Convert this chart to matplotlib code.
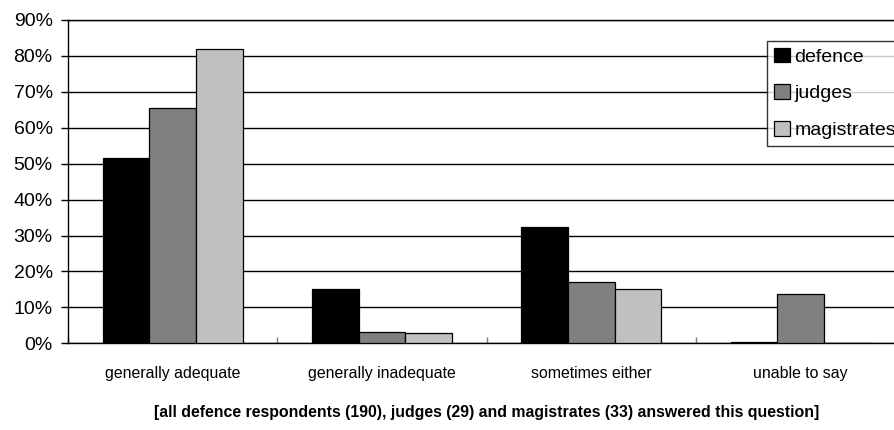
import matplotlib
matplotlib.use("Agg")
import matplotlib.pyplot as plt
import numpy as np
from matplotlib.ticker import FuncFormatter, FixedLocator

categories = ["generally adequate", "generally inadequate", "sometimes either", "unable to say"]
series_names = ["defence", "judges", "magistrates"]
defence = [51.5, 15.1, 32.4, 0.5]
judges = [65.4, 3.2, 17.0, 13.6]
magistrates = [81.8, 2.8, 15.0, 0.0]
y_ticks = [0, 10, 20, 30, 40, 50, 60, 70, 80, 90]
note = "[all defence respondents (190), judges (29) and magistrates (33) answered this question]"

colors = ["#000000", "#808080", "#C0C0C0"]

plt.rcParams['font.family'] = ['Liberation Sans', 'DejaVu Sans']

W, H = 895, 430
fig = plt.figure(figsize=(W / 100, H / 100), dpi=100)
left, right = 68, 905.3
top, bottom = 20, 343.3
ax = fig.add_axes([left / W, (H - bottom) / H, (right - left) / W, (bottom - top) / H])

x = np.arange(len(categories))
bw = 0.2227
for i, (vals, name) in enumerate(zip([defence, judges, magistrates], series_names)):
    ax.bar(x + (i - 1) * bw, vals, width=bw, color=colors[i], edgecolor="#000000",
           linewidth=0.9, label=name, zorder=3)

ax.set_xlim(-0.5, len(categories) - 0.5)
ax.set_ylim(0, 90)
ax.set_yticks(y_ticks)
ax.yaxis.set_major_formatter(FuncFormatter(lambda v, p: f"{int(round(v))}%"))
ax.yaxis.grid(True, color="#000000", linewidth=1.0, zorder=0)
ax.set_axisbelow(True)
ax.tick_params(axis="y", direction="out", length=5, width=1, pad=6, labelsize=14, colors="#000000")

ax.set_xticks(x)
ax.set_xticklabels(categories, fontsize=11.4)
ax.tick_params(axis="x", which="major", length=0, pad=16)
ax.xaxis.set_minor_locator(FixedLocator(np.arange(-0.5, len(categories) + 0.5, 1.0)))
ax.tick_params(axis="x", which="minor", direction="in", length=4, width=1, color="#808080")

ax.spines["right"].set_visible(False)
for s in ["top", "left", "bottom"]:
    ax.spines[s].set_linewidth(1.0)

leg = fig.legend(loc="upper left", bbox_to_anchor=(767.3 / W, 1 - 40.7 / H),
                 fontsize=14, frameon=True, fancybox=False, shadow=False,
                 handlelength=0.8, handleheight=0.8, handletextpad=0.25,
                 labelspacing=0.95, borderpad=0.35, borderaxespad=0)
leg.get_frame().set_edgecolor("#000000")
leg.get_frame().set_linewidth(1.0)

fig.text((left + right) / 2 / W, 1 - 412 / H, note, ha="center", va="center",
         fontsize=11.4, fontweight="bold")

fig.savefig("out.png", dpi=100)
